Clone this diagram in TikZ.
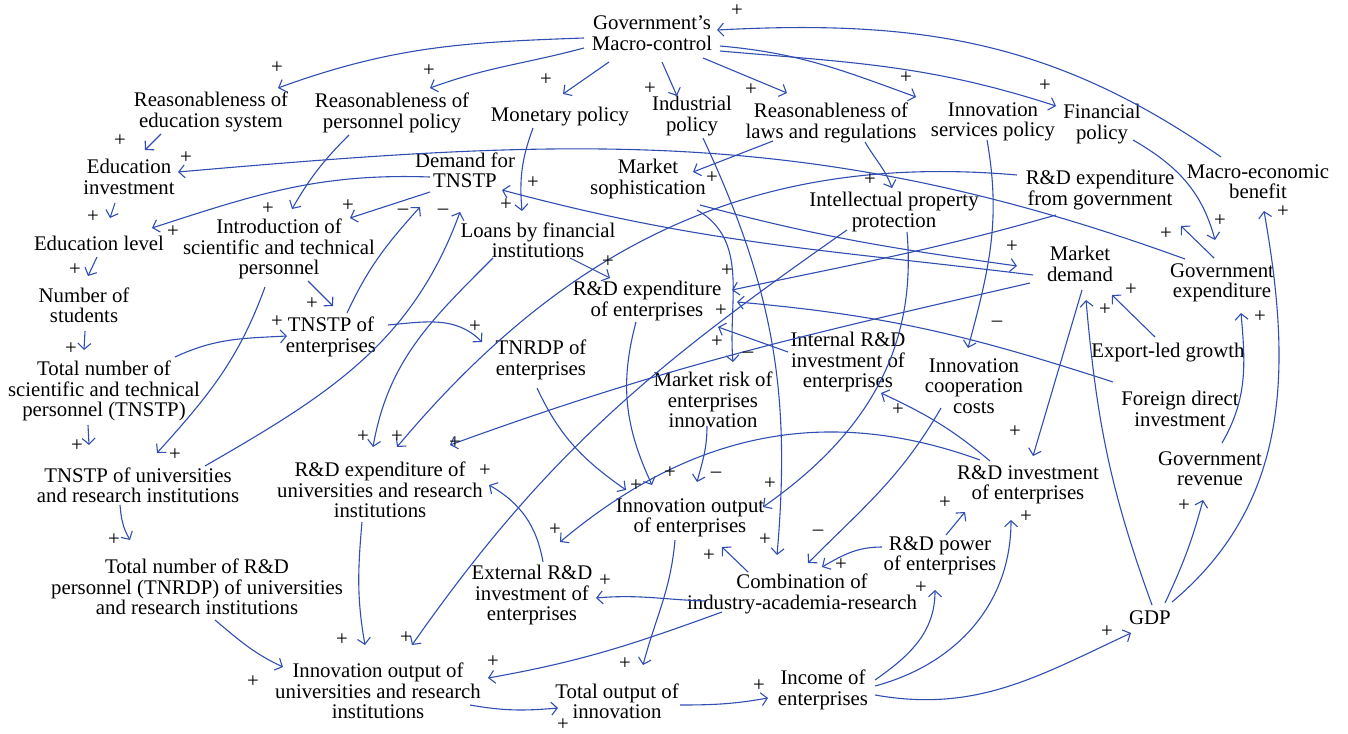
\documentclass[tikz,border=0pt]{standalone}
\usepackage{fontspec}
\setmainfont{Liberation Serif}
\usetikzlibrary{calc,arrows.meta}
\definecolor{lnk}{RGB}{48,78,178}
\tikzset{var/.style={align=center,inner sep=0pt,font=\fontsize{10.4}{10.2}\selectfont},
  sgn/.style={inner sep=0pt,font=\fontsize{10.4}{10.2}\selectfont},
  link/.style={draw=lnk,line width=0.55pt,-{Straight Barb[length=3pt,width=6.5pt]}}}

\begin{document}
\begin{tikzpicture}[x=0.5pt,y=-0.5pt]
\useasboundingbox (0,0) rectangle (1348,733);

% Variables
\node[var] (gov)    at (652,33)  {Government's\\Macro-control};
\node[var] (redu)   at (211,112) {Reasonableness of\\education system};
\node[var] (rper)   at (392,113) {Reasonableness of\\personnel policy};
\node[var] (mon)    at (560,117) {Monetary policy};
\node[var] (ind)    at (692,116) {Industrial\\policy};
\node[var] (laws)   at (831,123) {Reasonableness of\\laws and regulations};
\node[var] (isp)    at (993,122) {Innovation\\services policy};
\node[var] (fin)    at (1102,124) {Financial\\policy};
\node[var] (meb)    at (1258,182) {Macro-economic\\benefit};
\node[var] (einv)   at (129,177) {Education\\investment};
\node[var] (dem)    at (465,170) {Demand for\\TNSTP};
\node[var] (msoph)  at (648,179) {Market\\sophistication};
\node[var] (ipp)    at (894,212) {Intellectual property\\protection};
\node[var] (rdgov)  at (1100,190) {R\&D expenditure\\from government};
\node[var] (elev)   at (99,243)  {Education level};
\node[var] (intro)  at (279,249) {Introduction of\\scientific and technical\\personnel};
\node[var] (loans)  at (538,240) {Loans by financial\\institutions};
\node[var] (mdem)   at (1080,264) {Market\\demand};
\node[var] (gexp)   at (1222,283) {Government\\expenditure};
\node[var] (nstud)  at (84,305)  {Number of\\students};
\node[var] (rdent)  at (647,301) {R\&D expenditure\\of enterprises};
\node[var] (tent)   at (331,337) {TNSTP of\\enterprises};
\node[var] (trdent) at (541,360) {TNRDP of\\enterprises};
\node[var] (export) at (1168,353) {Export-led growth};
\node[var] (ttnstp) at (104,391) {Total number of\\scientific and technical\\personnel (TNSTP)};
\node[var] (mrisk)  at (713,400) {Market risk of\\enterprises\\innovation};
\node[var] (intrd)  at (848,362) {Internal R\&D\\investment of\\enterprises};
\node[var] (icoop)  at (974,386) {Innovation\\cooperation\\costs};
\node[var] (fdi)    at (1180,409) {Foreign direct\\investment};
\node[var] (tuni)   at (138,485) {TNSTP of universities\\and research institutions};
\node[var] (rduni)  at (380,490) {R\&D expenditure of\\universities and research\\institutions};
\node[var] (grev)   at (1210,469) {Government\\revenue};
\node[var] (rdinv)  at (1028,485) {R\&D investment\\of enterprises};
\node[var] (ioent)  at (690,518) {Innovation output\\of enterprises};
\node[var] (trduni) at (197,587) {Total number of R\&D\\personnel (TNRDP) of universities\\and research institutions};
\node[var] (extrd)  at (532,595) {External R\&D\\investment of\\enterprises};
\node[var] (comb)   at (802,594) {Combination of\\industry-academia-research};
\node[var] (rdpow)  at (940,556) {R\&D power\\of enterprises};
\node[var] (gdp)    at (1150,618) {GDP};
\node[var] (iouni)  at (378,691) {Innovation output of\\universities and research\\institutions};
\node[var] (tout)   at (617,701) {Total output of\\innovation};
\node[var] (inc)    at (823,690) {Income of\\enterprises};

% Government's macro-control
\draw[link] ($(gov)+(-68,5)$) to[out=182,in=20] ($(redu)+(67,-24)$);
\draw[link] ($(gov)+(-68,15)$) to[out=195,in=20] ($(rper)+(38,-25)$);
\draw[link] ($(gov)+(-43,29)$) -- ($(mon)+(3,-23)$);
\draw[link] ($(gov)+(10,29)$) -- ($(ind)+(-15,-20)$);
\draw[link] ($(gov)+(51,25)$) -- ($(laws)+(-44,-30)$);
\draw[link] ($(gov)+(68,13)$) to[out=355,in=160] ($(isp)+(-77,-25)$);
\draw[link] ($(gov)+(68,18)$) to[out=355,in=162] ($(fin)+(-46,-18)$);
\draw[link] ($(meb)+(-37,-25)$) to[out=145,in=3] ($(gov)+(65,-3)$);

% Education and personnel
\draw[link] ($(redu)+(-50,22)$) -- ($(einv)+(16,-27)$);
\draw[link] ($(einv)+(-14,26)$) -- ($(elev)+(11,-25)$);
\draw[link] ($(elev)+(-2,14)$) -- ($(nstud)+(4,-29)$);
\draw[link] ($(nstud)+(1,26)$) -- ($(ttnstp)+(-20,-41)$);
\draw[link] ($(ttnstp)+(-16,34)$) -- ($(tuni)+(-49,-40)$);
\draw[link] ($(tuni)+(-18,20)$) to[out=275,in=120] ($(trduni)+(-67,-47)$);
\draw[link] ($(rper)+(-43,22)$) to[out=225,in=60] ($(intro)+(13,-40)$);
\draw[link] ($(gexp)+(-37,-24)$) to[out=160,in=5] ($(einv)+(49,-5)$);
\draw[link] ($(dem)+(-35,7)$) to[out=178,in=18] ($(elev)+(53,-15)$);
\draw[link] ($(dem)+(-35,22)$) -- ($(intro)+(71,-31)$);
\draw[link] ($(ttnstp)+(71,-34)$) to[out=25,in=183] ($(tent)+(-44,-1)$);
\draw[link] ($(intro)+(29,32)$) -- ($(tent)+(2,-31)$);
\draw[link] ($(intro)+(-14,38)$) to[out=250,in=48] ($(tuni)+(19,-32)$);
\draw[link] ($(tent)+(16,-24)$) to[out=65,in=228] ($(dem)+(-45,37)$);
\draw[link] ($(tuni)+(67,-19)$) to[out=30,in=250] ($(dem)+(-5,42)$);
\draw[link] ($(tent)+(57,-12)$) to[out=5,in=135] ($(trdent)+(-59,-18)$);

% Loans and R&D expenditure
\draw[link] ($(mon)+(-27,11)$) to[out=250,in=95] ($(loans)+(-16,-29)$);
\draw[link] ($(loans)+(32,18)$) -- ($(rdent)+(-37,-23)$);
\draw[link] ($(loans)+(-45,18)$) to[out=225,in=80] ($(rduni)+(-7,-43)$);
\draw[link] ($(rdgov)+(-83,-15)$) to[out=175,in=50] ($(rduni)+(17,-43)$);
\draw[link] ($(rdgov)+(-44,25)$) to[out=196,in=12] ($(rdent)+(85,-11)$);
\draw[link] ($(fdi)+(-67,-27)$) to[out=162,in=355] ($(rdent)+(90,1)$);
\draw[link] ($(intrd)+(-60,-10)$) -- ($(rdent)+(71,26)$);
\draw[link] ($(mdem)+(-50,19)$) to[out=193,in=20] ($(rduni)+(70,-45)$);
\draw[link] ($(extrd)+(11,-33)$) to[out=100,in=330] ($(rduni)+(109,-5)$);

% Market
\draw[link] ($(mdem)+(-47,11)$) to[out=173,in=345] ($(dem)+(37,20)$);
\draw[link] ($(msoph)+(52,26)$) to[out=345,in=172] ($(mdem)+(-63,2)$);
\draw[link] ($(laws)+(-58,18)$) -- ($(msoph)+(45,-7)$);
\draw[link] ($(laws)+(34,19)$) to[out=300,in=110] ($(ipp)+(-2,-24)$);
\draw[link] ($(msoph)+(49,31)$) to[out=330,in=95] ($(mrisk)+(20,-38)$);
\draw[link] ($(export)+(-13,-16)$) -- ($(mdem)+(32,31)$);
\draw[link] ($(mdem)+(2,26)$) -- ($(rdinv)+(5,-29)$);
\draw[link] ($(gdp)+(2,-13)$) to[out=110,in=275] ($(mdem)+(6,36)$);

% Government
\draw[link] ($(fin)+(31,16)$) to[out=330,in=105] ($(gexp)+(-7,-43)$);
\draw[link] ($(gexp)+(-8,-25)$) -- ($(rdgov)+(81,36)$);
\draw[link] ($(grev)+(12,-26)$) to[out=60,in=275] ($(gexp)+(19,30)$);
\draw[link] ($(gdp)+(15,-15)$) to[out=65,in=255] ($(grev)+(-7,31)$);
\draw[link] ($(gdp)+(22,-16)$) to[out=40,in=280] ($(meb)+(6,29)$);
\draw[link] ($(isp)+(-6,18)$) to[out=280,in=75] ($(icoop)+(-6,-38)$);
\draw[link] ($(ind)+(11,22)$) to[out=295,in=85] ($(comb)+(-25,-39)$);

% Innovation output
\draw[link] ($(ipp)+(13,20)$) to[out=275,in=35] ($(ioent)+(73,-11)$);
\draw[link] ($(ipp)+(-47,18)$) to[out=215,in=55] ($(iouni)+(34,-46)$);
\draw[link] ($(mrisk)+(-6,26)$) to[out=270,in=75] ($(ioent)+(7,-36)$);
\draw[link] ($(trdent)+(-4,28)$) to[out=295,in=145] ($(ioent)+(-64,-28)$);
\draw[link] ($(rdent)+(-11,21)$) to[out=255,in=115] ($(ioent)+(-38,-33)$);
\draw[link] ($(comb)+(-54,-22)$) -- ($(ioent)+(32,29)$);
\draw[link] ($(comb)+(-97,7)$) to[out=178,in=5] ($(extrd)+(64,3)$);
\draw[link] ($(rdinv)+(-48,-25)$) to[out=160,in=40] ($(extrd)+(28,-53)$);
\draw[link] ($(rdinv)+(-38,-24)$) to[out=140,in=335] ($(intrd)+(33,31)$);
\draw[link] ($(icoop)+(-33,22)$) to[out=240,in=45] ($(comb)+(6,-31)$);
\draw[link] ($(rdpow)+(-58,-9)$) to[out=180,in=30] ($(comb)+(20,-27)$);
\draw[link] ($(rdpow)+(6,-21)$) -- ($(rdinv)+(-63,27)$);
\draw[link] ($(rduni)+(-18,32)$) to[out=265,in=100] ($(iouni)+(-13,-46)$);
\draw[link] ($(trduni)+(18,33)$) to[out=320,in=155] ($(iouni)+(-95,-24)$);
\draw[link] ($(comb)+(-80,18)$) to[out=200,in=10] ($(iouni)+(110,-13)$);

% Output and income
\draw[link] ($(iouni)+(92,14)$) to[out=350,in=185] ($(tout)+(-59,7)$);
\draw[link] ($(ioent)+(-15,22)$) to[out=265,in=75] ($(tout)+(26,-36)$);
\draw[link] ($(tout)+(63,4)$) to[out=0,in=190] ($(inc)+(-55,8)$);
\draw[link] ($(inc)+(52,-10)$) to[out=35,in=270] ($(rdpow)+(-5,34)$);
\draw[link] ($(inc)+(52,-4)$) to[out=15,in=270] ($(rdinv)+(-17,35)$);
\draw[link] ($(inc)+(52,5)$) to[out=350,in=205] ($(gdp)+(-19,15)$);

% Polarity signs
\node[sgn] (s1)  at (737,11)  {+};
\node[sgn] (s2)  at (277,68)  {+};
\node[sgn] (s3)  at (429,71)  {+};
\node[sgn] (s4)  at (546,80)  {+};
\node[sgn] (s5)  at (650,89)  {+};
\node[sgn] (s6)  at (751,90)  {+};
\node[sgn] (s7)  at (906,78)  {+};
\node[sgn] (s8)  at (1045,86) {+};
\node[sgn] (s9)  at (120,141) {+};
\node[sgn] (s10) at (186,158) {+};
\node[sgn] (s11) at (533,183) {+};
\node[sgn] (s12) at (712,178) {+};
\node[sgn] (s13) at (870,180) {+};
\node[sgn] (s14) at (1220,221) {+};
\node[sgn] (s15) at (1166,234) {+};
\node[sgn] (s16) at (1283,212) {+};
\node[sgn] (s17) at (93,217)  {+};
\node[sgn] (s18) at (173,232) {+};
\node[sgn] (s19) at (268,209) {+};
\node[sgn] (s20) at (348,206) {+};
\node[sgn] (s21) at (403,212) {--};
\node[sgn] (s22) at (443,212) {--};
\node[sgn] (s23) at (506,205) {+};
\node[sgn] (s24) at (608,262) {+};
\node[sgn] (s25) at (1012,247) {+};
\node[sgn] (s26) at (727,271) {+};
\node[sgn] (s27) at (721,311) {+};
\node[sgn] (s28) at (717,342) {+};
\node[sgn] (s29) at (748,355) {--};
\node[sgn] (s30) at (1131,290) {+};
\node[sgn] (s31) at (1105,310) {+};
\node[sgn] (s32) at (1260,317) {+};
\node[sgn] (s33) at (75,270)  {+};
\node[sgn] (s34) at (71,349)  {+};
\node[sgn] (s35) at (277,322) {+};
\node[sgn] (s36) at (312,304) {+};
\node[sgn] (s37) at (475,327) {+};
\node[sgn] (s38) at (997,324) {--};
\node[sgn] (s39) at (898,410) {+};
\node[sgn] (s40) at (1015,432) {+};
\node[sgn] (s41) at (77,446)  {+};
\node[sgn] (s42) at (175,455) {+};
\node[sgn] (s43) at (363,437) {+};
\node[sgn] (s44) at (397,437) {+};
\node[sgn] (s45) at (455,443) {+};
\node[sgn] (s46) at (485,471) {+};
\node[sgn] (s47) at (670,473) {+};
\node[sgn] (s48) at (716,475) {--};
\node[sgn] (s49) at (636,486) {+};
\node[sgn] (s50) at (770,484) {+};
\node[sgn] (s51) at (555,530) {+};
\node[sgn] (s52) at (1184,506) {+};
\node[sgn] (s53) at (945,503) {+};
\node[sgn] (s54) at (1026,517) {+};
\node[sgn] (s55) at (765,540) {+};
\node[sgn] (s56) at (818,533) {--};
\node[sgn] (s57) at (709,556) {+};
\node[sgn] (s58) at (841,565) {+};
\node[sgn] (s59) at (605,581) {+};
\node[sgn] (s60) at (921,588) {+};
\node[sgn] (s61) at (114,540) {+};
\node[sgn] (s62) at (342,640) {+};
\node[sgn] (s63) at (406,638) {+};
\node[sgn] (s64) at (253,682) {+};
\node[sgn] (s65) at (493,662) {+};
\node[sgn] (s66) at (625,664) {+};
\node[sgn] (s67) at (1107,632) {+};
\node[sgn] (s68) at (759,686) {+};
\node[sgn] (s69) at (563,725) {+};

\end{tikzpicture}
\end{document}
